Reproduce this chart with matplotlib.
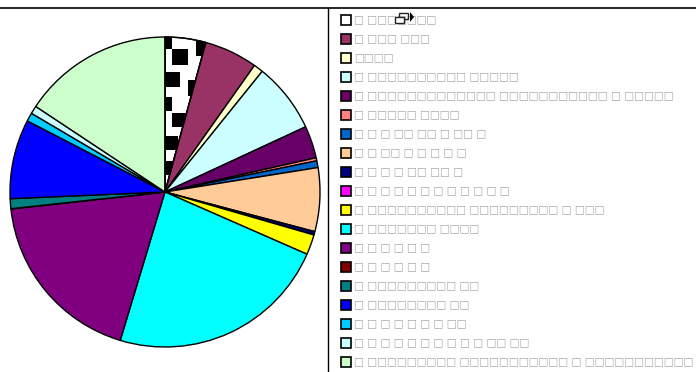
import matplotlib
matplotlib.use("Agg")
import matplotlib.pyplot as plt
from matplotlib.patches import Rectangle, Polygon, Wedge

W, H = 696, 372

shares = [4.25, 5.55, 1.0, 7.3, 3.36, 0.33, 0.7, 6.64, 0.33, 0.03, 2.1, 23.1,
          18.6, 0.03, 1.03, 8.28, 0.89, 0.83, 15.7]
colors = ["#ffffff", "#993366", "#ffffcc", "#ccffff", "#660066", "#ff8080",
          "#0066cc", "#ffcc99", "#000080", "#ff00ff", "#ffff00", "#00ffff",
          "#800080", "#800000", "#008080", "#0000ff", "#00ccff", "#ccffff",
          "#ccffcc"]
# the legend text of the reference is all missing-glyph boxes
labels = [
    "□ □□□□□□□",
    "□ □□□ □□□",
    "□□□□",
    "□ □□□□□□□□□□ □□□□□",
    "□ □□□□□□□□□□□□□ □□□□□□□□□□□ □ □□□□□",
    "□ □□□□□ □□□□",
    "□ □ □ □□ □□ □ □□ □",
    "□ □ □□ □ □ □ □ □",
    "□ □ □ □ □□ □□ □",
    "□ □ □ □ □ □ □ □ □ □ □ □",
    "□ □□□□□□□□□□ □□□□□□□□□ □ □□□",
    "□ □□□□□□□ □□□□",
    "□ □ □ □ □ □",
    "□ □ □ □ □ □",
    "□ □□□□□□□□□ □□",
    "□ □□□□□□□□ □□",
    "□ □ □ □ □ □ □ □□",
    "□ □ □ □ □ □ □ □ □ □ □□ □□",
    "□ □□□□□□□□□ □□□□□□□□□□□ □ □□□□□□□□□□□",
]

# black blocks of the first slice's fill pattern, in pixels: x0, x1, y0, y1
pattern = [(165, 172, 37, 49), (172, 188, 49, 65), (165, 180, 72, 87),
           (188, 197, 80, 96), (196, 206, 41, 56), (165, 172, 97, 111),
           (172, 187, 113, 127), (165, 178, 136, 150), (165, 173, 161, 175)]

plt.rcParams["font.family"] = "DejaVu Sans"
fig = plt.figure(figsize=(W / 100, H / 100), dpi=100)
ax = fig.add_axes([0, 0, 1, 1])

wedges, _ = ax.pie(shares, colors=colors, startangle=90, counterclock=False,
                   center=(165, H - 192), radius=155, frame=True,
                   wedgeprops={"edgecolor": "black", "linewidth": 1.0})

for x0, x1, y0, y1 in pattern:
    block = Rectangle((x0, H - y1), x1 - x0, y1 - y0, facecolor="black", edgecolor="none", zorder=1.5)
    ax.add_patch(block)
    block.set_clip_path(wedges[0])
ax.add_patch(Wedge((165, H - 192), 155, 90 - shares[0] * 360 / sum(shares), 90,
                   fill=False, edgecolor="black", linewidth=1.0, zorder=2))

# frame lines of the page
ax.plot([0, W], [H - 7.5, H - 7.5], color="black", linewidth=1.2)
ax.plot([328, 328], [0, H - 7.5], color="black", linewidth=1.0)

for i, (col, lab) in enumerate(zip(colors, labels)):
    y = 20 + i * 19
    ax.add_patch(Rectangle((341, H - y - 5), 10, 10, facecolor=col, edgecolor="black", linewidth=1.2))
    ax.text(354, H - y + 1, lab, color="#a8a8a8", fontsize=7.6, va="center", ha="left")

# little window icon over the first legend row
ax.add_patch(Rectangle((395, H - 23), 9, 6, facecolor="white", edgecolor="#222222", linewidth=1.0, zorder=4))
ax.add_patch(Rectangle((399, H - 19), 9, 6, facecolor="none", edgecolor="#222222", linewidth=1.0, zorder=3))
ax.add_patch(Polygon([(410, H - 12), (414, H - 17), (410, H - 22)], facecolor="black", edgecolor="none", zorder=4))

ax.set_xlim(0, W)
ax.set_ylim(0, H)
ax.set_aspect("auto")
ax.axis("off")
fig.savefig("out.png", dpi=100)
